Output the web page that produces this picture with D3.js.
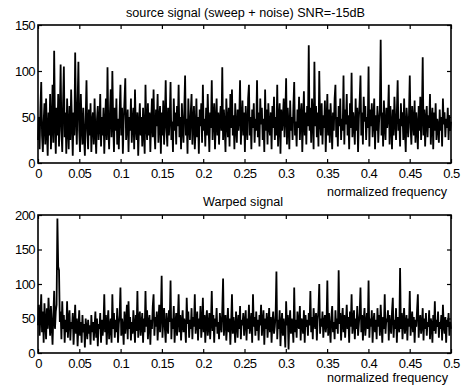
<!DOCTYPE html>
<html>
<head>
<meta charset="utf-8">
<script src="https://cdn.jsdelivr.net/npm/d3@7"></script>
<style>
  body { margin: 0; background: #fff; }
  text { font-family: "Liberation Sans", Arial, sans-serif; fill: #000; }
</style>
</head>
<body>
<script>
// tick labels
const freqTicks = [0, 0.05, 0.1, 0.15, 0.2, 0.25, 0.3, 0.35, 0.4, 0.45, 0.5];
const sourceTicks = [0, 50, 100, 150];
const warpedTicks = [0, 50, 100, 150, 200];

// spectrum magnitudes, 512 bins over 0..0.5
const sourceValues = [
  25, 50, 15, 60, 88, 30, 12, 45, 65, 20, 70, 35, 8, 55, 30, 75,
  15, 40, 85, 22, 122, 45, 10, 60, 30, 75, 18, 50, 107, 35, 12, 65,
  105, 28, 55, 10, 70, 40, 15, 62, 25, 80, 45, 8, 55, 30, 120, 50,
  20, 65, 110, 35, 12, 75, 40, 20, 60, 28, 8, 50, 90, 35, 15, 58,
  30, 65, 12, 45, 55, 20, 70, 35, 10, 48, 62, 25, 40, 75, 18, 50,
  30, 60, 10, 42, 70, 25, 104, 38, 15, 55, 80, 28, 100, 45, 12, 60,
  35, 70, 20, 48, 15, 55, 85, 30, 60, 10, 45, 68, 92, 25, 40, 58,
  12, 50, 35, 70, 22, 45, 60, 15, 80, 38, 25, 55, 8, 42, 65, 30,
  50, 18, 60, 35, 10, 85, 40, 25, 65, 30, 55, 12, 45, 70, 28, 80,
  35, 15, 58, 40, 75, 22, 48, 62, 10, 55, 30, 68, 20, 45, 90, 38,
  18, 60, 30, 50, 88, 25, 45, 12, 70, 35, 55, 20, 62, 40, 85, 28,
  50, 15, 65, 38, 22, 58, 95, 30, 48, 10, 70, 40, 25, 55, 75, 20,
  45, 62, 15, 35, 70, 28, 50, 10, 58, 40, 65, 22, 85, 35, 48, 18,
  60, 30, 75, 42, 12, 55, 38, 90, 25, 50, 65, 15, 45, 70, 30, 55,
  20, 48, 62, 35, 104, 25, 58, 40, 12, 70, 45, 28, 60, 18, 75, 38,
  80, 30, 52, 15, 65, 40, 22, 58, 35, 48, 90, 20, 45, 68, 30, 55,
  12, 62, 40, 25, 70, 85, 30, 50, 15, 58, 38, 65, 22, 48, 35, 90,
  28, 55, 18, 70, 42, 60, 25, 48, 12, 80, 35, 58, 20, 65, 40, 30,
  55, 15, 62, 38, 72, 25, 50, 30, 85, 18, 45, 65, 10, 58, 35, 48,
  70, 28, 52, 92, 20, 60, 40, 15, 68, 35, 50, 25, 62, 88, 30, 45,
  18, 58, 38, 72, 25, 50, 65, 12, 45, 78, 30, 55, 20, 62, 40, 128,
  35, 60, 22, 70, 48, 15, 110, 40, 62, 28, 55, 18, 100, 45, 30, 65,
  20, 52, 38, 68, 12, 45, 75, 30, 58, 22, 65, 42, 15, 55, 35, 70,
  85, 28, 50, 18, 62, 40, 70, 25, 48, 35, 95, 20, 58, 42, 75, 30,
  52, 15, 65, 38, 98, 28, 55, 42, 20, 70, 35, 60, 12, 48, 68, 95,
  30, 55, 20, 72, 45, 62, 25, 50, 38, 105, 18, 58, 40, 65, 28, 48,
  70, 15, 52, 35, 62, 22, 45, 58, 134, 30, 55, 18, 68, 40, 25, 60,
  38, 50, 85, 20, 62, 42, 15, 58, 30, 72, 45, 25, 55, 90, 35, 48,
  18, 65, 40, 55, 25, 70, 35, 12, 60, 45, 28, 52, 95, 38, 20, 62,
  45, 30, 68, 22, 55, 40, 15, 62, 35, 72, 25, 50, 115, 30, 58, 18,
  48, 62, 28, 52, 38, 75, 20, 45, 60, 15, 55, 35, 65, 25, 48, 40,
  22, 58, 35, 50, 18, 70, 42, 55, 28, 48, 38, 60, 25, 52, 35, 45
];
const warpedValues = [
  40, 70, 25, 55, 85, 30, 60, 15, 72, 45, 20, 65, 35, 80, 50, 25,
  68, 40, 12, 55, 90, 35, 60, 70, 195, 125, 120, 45, 60, 20, 75, 35,
  55, 15, 48, 30, 75, 22, 50, 62, 18, 45, 35, 58, 12, 40, 70, 28,
  50, 10, 38, 62, 25, 45, 15, 55, 30, 42, 8, 50, 35, 20, 48, 28,
  40, 12, 55, 30, 45, 18, 38, 60, 22, 50, 10, 42, 35, 58, 15, 48,
  25, 40, 85, 30, 55, 12, 45, 62, 20, 38, 50, 15, 85, 35, 58, 22,
  48, 30, 65, 15, 42, 55, 95, 25, 50, 38, 12, 60, 28, 45, 70, 20,
  75, 35, 52, 18, 45, 28, 62, 40, 15, 55, 32, 90, 22, 48, 60, 25,
  42, 58, 15, 50, 30, 90, 38, 62, 20, 45, 55, 12, 48, 35, 68, 85,
  25, 52, 38, 60, 18, 45, 70, 30, 55, 112, 22, 48, 65, 35, 15, 58,
  40, 28, 62, 45, 105, 20, 50, 35, 68, 15, 42, 58, 25, 48, 85, 30,
  55, 18, 45, 62, 30, 50, 38, 15, 80, 42, 60, 22, 48, 35, 65, 20,
  52, 38, 85, 28, 45, 60, 18, 50, 35, 68, 22, 42, 80, 30, 55, 15,
  48, 62, 25, 40, 58, 20, 45, 90, 32, 55, 15, 50, 38, 65, 28, 45,
  20, 58, 42, 30, 62, 108, 25, 48, 55, 18, 40, 65, 30, 50, 12, 45,
  85, 28, 52, 38, 15, 60, 42, 22, 55, 35, 68, 20, 48, 40, 58, 25,
  45, 62, 18, 50, 35, 70, 28, 42, 58, 15, 85, 38, 52, 25, 60, 32,
  48, 18, 55, 40, 70, 25, 45, 62, 12, 50, 35, 58, 22, 42, 65, 30,
  52, 15, 45, 60, 28, 38, 55, 118, 20, 48, 35, 62, 10, 42, 58, 25,
  50, 35, 8, 75, 40, 55, 5, 45, 62, 28, 50, 38, 15, 95, 30, 48,
  22, 60, 42, 35, 68, 18, 50, 45, 28, 62, 15, 55, 38, 48, 25, 58,
  40, 90, 30, 52, 20, 65, 45, 35, 58, 18, 48, 62, 100, 28, 50, 38,
  60, 22, 45, 55, 30, 42, 105, 25, 58, 38, 15, 52, 68, 30, 45, 20,
  62, 35, 50, 28, 120, 42, 58, 18, 48, 65, 30, 55, 22, 45, 70, 35,
  52, 15, 60, 38, 85, 28, 45, 62, 20, 50, 35, 68, 25, 42, 58, 95,
  30, 55, 18, 48, 65, 25, 42, 58, 35, 105, 22, 50, 38, 62, 15, 45,
  58, 30, 48, 20, 65, 38, 55, 25, 70, 42, 15, 52, 35, 85, 28, 50,
  45, 62, 18, 55, 38, 28, 60, 80, 22, 48, 35, 65, 15, 52, 42, 30,
  123, 35, 58, 20, 48, 65, 28, 42, 55, 18, 50, 38, 90, 25, 45, 60,
  30, 52, 15, 48, 38, 62, 85, 22, 45, 55, 28, 40, 65, 18, 50, 35,
  58, 25, 45, 38, 62, 20, 50, 42, 15, 55, 32, 75, 28, 48, 38, 60,
  22, 45, 35, 55, 18, 70, 40, 28, 52, 15, 48, 38, 58, 25, 45, 35
];

const W = 465, H = 388;
const left = 38, right = 451;

const svg = d3.select("body").append("svg")
  .attr("width", W)
  .attr("height", H);

const x = d3.scaleLinear().domain([0, 0.5]).range([left, right]);

function panel(values, yTicks, yMax, top, bottom) {
  const y = d3.scaleLinear().domain([0, yMax]).range([bottom, top]);
  const xs = d3.scaleLinear().domain([0, values.length - 1]).range([0, 0.5]);
  const g = svg.append("g");

  const line = d3.line()
    .x((d, i) => x(xs(i)))
    .y(d => y(d));

  g.append("path")
    .datum(values)
    .attr("fill", "none")
    .attr("stroke", "#000")
    .attr("stroke-width", 1.8)
    .attr("stroke-linejoin", "miter")
    .attr("d", line);

  // bottom axis with labels, ticks pointing in
  g.append("g")
    .attr("transform", "translate(0," + bottom + ")")
    .call(d3.axisBottom(x).tickValues(freqTicks).tickFormat(d3.format("~g"))
      .tickSizeInner(-4).tickSizeOuter(0).tickPadding(6));
  // top mirror ticks
  g.append("g")
    .attr("transform", "translate(0," + top + ")")
    .call(d3.axisTop(x).tickValues(freqTicks).tickFormat("")
      .tickSizeInner(-4).tickSizeOuter(0));
  g.append("g")
    .attr("transform", "translate(" + left + ",0)")
    .call(d3.axisLeft(y).tickValues(yTicks)
      .tickSizeInner(-4).tickSizeOuter(0).tickPadding(3));
  g.append("g")
    .attr("transform", "translate(" + right + ",0)")
    .call(d3.axisRight(y).tickValues(yTicks).tickFormat("")
      .tickSizeInner(-4).tickSizeOuter(0));

  g.selectAll(".domain").remove();
  g.selectAll(".tick line").attr("stroke", "#000").attr("stroke-width", 1.2);
  g.selectAll(".tick text")
    .style("font-size", "13px")
    .style("font-family", "'Liberation Sans', Arial, sans-serif")
    .attr("letter-spacing", "-0.6");

  // frame
  g.append("rect")
    .attr("x", left).attr("y", top)
    .attr("width", right - left).attr("height", bottom - top)
    .attr("fill", "none")
    .attr("stroke", "#000")
    .attr("stroke-width", 1.6);
}

panel(sourceValues, sourceTicks, 150, 25, 163);
panel(warpedValues, warpedTicks, 200, 215, 353);

function label(txt, xPos, yPos, len, anchor) {
  svg.append("text")
    .attr("x", xPos).attr("y", yPos)
    .attr("text-anchor", anchor)
    .style("font-size", "12px")
    .attr("textLength", len)
    .attr("lengthAdjust", "spacingAndGlyphs")
    .text(txt);
}

label("source signal (sweep + noise) SNR=-15dB", 126, 17, 239, "start");
label("normalized frequency", 327, 196, 120, "start");
label("Warped signal", 203, 206, 80, "start");
label("normalized frequency", 327, 382, 121, "start");
</script>
</body>
</html>
